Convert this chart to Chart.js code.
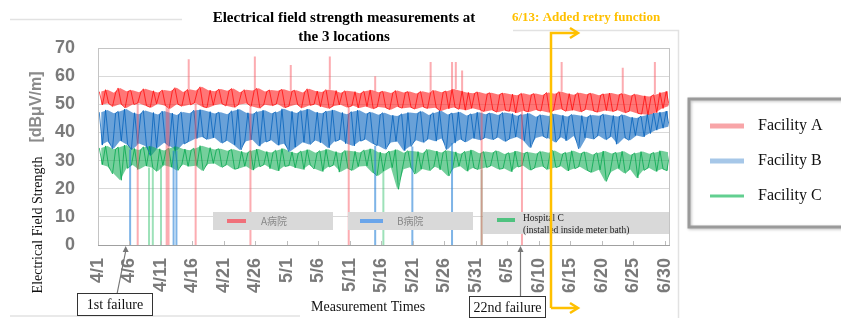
<!DOCTYPE html>
<html>
<head>
<meta charset="utf-8">
<script src="https://cdn.jsdelivr.net/npm/chart.js@4.4.0/dist/chart.umd.min.js"></script>
<style>
  body { margin: 0; background: #fff; }
  #wrap { position: relative; width: 841px; height: 318px; }
</style>
</head>
<body>
<div id="wrap"><canvas id="feldstaerke"></canvas></div>
<script>
// x axis: days since 4/1, one tick label every 5 days
const tickLabels = ['4/1', '4/6', '4/11', '4/16', '4/21', '4/26', '5/1', '5/6', '5/11', '5/16',
    '5/21', '5/26', '5/31', '6/5', '6/10', '6/15', '6/20', '6/25', '6/30'];

// daily upper / lower edge of each noisy band [dBuV/m]
const redHi = [
    54.5, 55.2, 54.1, 55.8, 54.6, 55.0, 54.3, 55.5, 54.8, 54.2,
    55.1, 54.7, 55.9, 54.4, 55.3, 54.9, 56.2, 55.0, 54.6, 55.4,
    54.8, 55.6, 54.3, 55.2, 54.9, 55.7, 54.5, 55.1, 54.8, 55.3,
    54.6, 55.0, 54.2, 55.5, 54.7, 54.4, 55.2, 54.9, 54.1, 54.8,
    54.5, 53.9, 54.7, 55.1, 54.3, 54.6, 54.0, 54.9, 54.2, 54.5,
    53.8, 54.6, 54.1, 55.0, 54.3, 54.7, 55.4, 54.8, 54.2, 53.9,
    54.4, 53.7, 54.1, 53.5, 54.0, 53.6, 53.2, 53.9, 53.4, 53.8,
    53.3, 54.2, 53.7, 54.5, 53.8, 53.4, 54.1, 53.6, 53.9, 53.2,
    53.7, 54.0, 53.5, 53.8, 53.1, 53.6, 53.0, 52.8, 53.4, 54.2, 54.6];
const redLo = [
    49.8, 50.3, 49.2, 50.1, 48.7, 49.9, 50.4, 49.5, 48.9, 50.2,
    49.6, 48.4, 50.0, 49.3, 49.8, 50.5, 49.1, 48.8, 49.7, 50.2,
    49.4, 48.9, 49.9, 50.3, 49.2, 48.6, 49.8, 49.5, 50.1, 48.8,
    49.3, 49.9, 48.7, 49.6, 50.0, 49.1, 48.5, 49.4, 49.8, 48.9,
    49.5, 48.7, 49.2, 48.4, 49.0, 48.8, 48.1, 49.1, 48.6, 48.9,
    48.3, 49.0, 48.5, 48.8, 47.6, 48.4, 48.9, 48.2, 47.9, 48.6,
    48.0, 47.4, 47.9, 47.2, 47.8, 47.5, 46.9, 47.7, 47.3, 48.0,
    47.6, 47.1, 47.8, 48.2, 47.5, 47.9, 47.3, 48.1, 47.6, 47.2,
    47.8, 47.4, 47.9, 47.0, 47.5, 46.8, 46.5, 46.2, 47.0, 48.5, 49.3];
const blueHi = [
    47.2, 48.0, 46.8, 47.5, 48.3, 47.0, 46.5, 47.8, 47.1, 46.4,
    47.6, 46.9, 46.2, 47.3, 46.8, 47.9, 48.1, 47.4, 46.7, 47.2,
    46.5, 47.7, 48.2, 47.0, 46.6, 47.4, 47.9, 46.8, 47.3, 48.4,
    47.5, 46.9, 47.8, 48.3, 47.2, 46.8, 47.6, 48.0, 47.1, 46.5,
    47.4, 47.9, 46.7, 47.2, 46.3, 47.0, 46.1, 45.8, 46.6, 47.1,
    46.8, 47.5, 46.2, 47.0, 47.7, 46.4, 46.9, 47.3, 46.0, 46.6,
    47.2, 46.5, 46.9, 46.2, 47.1, 46.7, 45.9, 46.4, 46.8, 45.6,
    46.3, 45.8, 46.6, 46.1, 45.7, 46.4, 46.0, 45.5, 46.2, 45.9,
    46.5, 46.0, 45.7, 46.3, 45.4, 45.1, 45.8, 46.4, 46.9, 47.2, 47.6];
const blueLo = [
    35.5, 36.8, 34.2, 37.0, 35.8, 33.9, 36.1, 35.2, 31.8, 34.6,
    36.3, 35.0, 33.5, 35.9, 36.7, 37.8, 38.4, 37.5, 38.1, 36.2,
    37.0, 35.6, 33.8, 36.9, 37.4, 35.1, 36.6, 37.2, 35.4, 36.0,
    33.2, 34.8, 36.5, 35.7, 37.1, 36.3, 34.5, 36.8, 37.4, 36.0,
    35.2, 36.9, 37.5, 36.1, 35.3, 34.0, 36.4, 36.8, 33.5, 35.0,
    37.2, 36.4, 37.6, 36.9, 37.8, 33.9, 36.2, 37.5, 36.6, 37.9,
    37.3, 38.0, 37.4, 38.2, 36.8, 37.7, 38.4, 37.1, 34.6, 38.0,
    38.6, 37.9, 36.5, 38.3, 37.0, 38.7, 34.2, 38.1, 37.6, 38.8,
    37.4, 38.5, 35.8, 38.0, 37.2, 38.9, 38.4, 39.6, 40.8, 41.5, 42.0];
const greenHi = [
    34.5, 35.2, 34.0, 34.8, 35.5, 34.3, 33.8, 34.9, 35.1, 34.2,
    33.6, 34.5, 35.0, 34.1, 33.7, 34.4, 35.3, 34.6, 33.9, 34.2,
    33.5, 34.0, 33.3, 32.8, 33.6, 34.1, 33.2, 32.9, 33.7, 34.3,
    33.1, 32.6, 33.4, 33.9, 32.8, 33.5, 34.0, 33.2, 32.7, 33.6,
    33.3, 32.9, 33.8, 34.2, 33.0, 32.5, 33.4, 33.9, 32.8, 33.5,
    33.2, 32.7, 34.0, 33.4, 32.9, 33.6, 33.1, 32.4, 33.3, 33.8,
    32.6, 33.2, 32.9, 33.5, 32.3, 32.8, 33.4, 32.7, 33.0, 32.5,
    33.3, 32.8, 33.6, 32.4, 32.9, 33.5, 32.6, 33.1, 32.2, 32.8,
    33.4, 32.5, 32.9, 33.3, 32.1, 32.7, 33.2, 32.4, 32.9, 33.5, 33.0];
const greenLo = [
    28.6, 27.9, 25.3, 23.0, 27.2, 28.4, 26.8, 28.1, 27.5, 26.2,
    28.3, 27.7, 26.5, 28.6, 27.9, 28.2, 26.4, 28.8, 29.0, 27.6,
    28.4, 26.9, 27.3, 28.0, 26.6, 27.8, 28.5, 27.1, 26.3, 27.9,
    28.2, 27.4, 26.8, 28.5, 27.0, 26.1, 27.7, 28.3, 25.9, 27.2,
    26.5, 27.9, 28.1, 25.8, 24.6, 26.3, 27.5, 19.8, 26.9, 27.6,
    25.2, 27.0, 26.4, 27.8, 26.7, 24.5, 27.3, 28.0, 26.2, 27.4,
    26.8, 27.5, 28.1, 26.9, 27.2, 26.0, 27.7, 28.2, 26.6, 27.4,
    27.9, 26.8, 27.5, 28.0, 26.3, 27.1, 27.8, 26.5, 25.8, 26.7,
    22.6, 26.0, 27.2, 25.5, 26.8, 23.8, 26.5, 27.4, 26.1, 27.0, 26.4];

// single readings far off the band: [day, value]  (drops to 0 = failures)
const redSpikes = [[6.3, 0], [10.9, 0], [11.2, 0], [14.4, 66], [15.5, 0], [24.2, 0], [24.9, 67],
    [30.6, 64], [36.8, 67], [39.8, 0], [44.0, 60], [52.8, 65], [56.2, 65], [56.8, 65],
    [57.8, 62], [60.9, 0], [67.3, 0], [73.6, 65], [83.3, 63], [88.4, 65]];
const blueSpikes = [[5.1, 0], [12.0, 0], [12.45, 0], [44.0, 0], [49.9, 0], [56.2, 0]];
const greenSpikes = [[8.1, 0], [8.7, 0], [10.0, 0], [45.3, 0], [60.9, 0]];

// annotations (days since 4/1)
const firstFailureDay = 4.4;
const failure22Day = 67.0;
const retryDay = 71.9;

const SERIF = '"Liberation Serif", "DejaVu Serif", serif';
const SANS = '"Liberation Sans", Arial, sans-serif';

// band as jagged line through each day's upper and lower reading;
// which one comes first follows the data (rising top -> top first)
function zigzag(hi, lo) {
    const pts = [];
    hi.forEach((h, d) => {
        const topFirst = d === 0 || h >= hi[d - 1];
        if (topFirst) {
            pts.push({ x: d + 0.2, y: h });
            pts.push({ x: d + 0.7, y: lo[d] });
        } else {
            pts.push({ x: d + 0.3, y: lo[d] });
            pts.push({ x: d + 0.8, y: h });
        }
    });
    return pts;
}
function edge(arr) {
    return arr.map((v, d) => ({ x: d + 0.5, y: v }));
}
// vertical strokes from the band to the outlying value
function spikeLines(spikes, hi, lo) {
    const pts = [];
    spikes.forEach(([t, v]) => {
        const d = Math.floor(t);
        pts.push({ x: t, y: v > 50 ? hi[d] : lo[d] });
        pts.push({ x: t, y: v });
        pts.push({ x: t, y: null });
    });
    return pts;
}

function band(data, color, order) {
    return { data: data, borderWidth: 0, pointRadius: 0, fill: false, order: order, backgroundColor: color };
}
function jagged(data, color, order) {
    return { data: data, borderColor: color, borderWidth: 1, pointRadius: 0, fill: false, order: order, tension: 0 };
}
function spikes(data, color) {
    return { data: data, borderColor: color, borderWidth: 2, pointRadius: 0, fill: false, order: 0, spanGaps: false };
}

function arrowUp(ctx, x, y) {
    ctx.beginPath();
    ctx.moveTo(x, y);
    ctx.lineTo(x - 3, y + 6);
    ctx.lineTo(x + 3, y + 6);
    ctx.closePath();
    ctx.fill();
}
function chevronRight(ctx, x, y) {
    ctx.beginPath();
    ctx.moveTo(x - 8, y - 5);
    ctx.lineTo(x, y);
    ctx.lineTo(x - 8, y + 5);
    ctx.stroke();
}
function labelBox(ctx, text, x, y, w, h) {
    ctx.fillStyle = '#fff';
    ctx.fillRect(x, y, w, h);
    ctx.strokeStyle = '#333';
    ctx.lineWidth = 1;
    ctx.strokeRect(x, y, w, h);
    ctx.fillStyle = '#111';
    ctx.font = '14px ' + SERIF;
    ctx.textAlign = 'center';
    ctx.textBaseline = 'middle';
    ctx.fillText(text, x + w / 2, y + h / 2 + 1);
}

const extras = {
    id: 'extras',
    beforeDraw(chart) {
        const ctx = chart.ctx;
        ctx.save();
        ctx.fillStyle = '#fff';
        ctx.fillRect(0, 0, chart.width, chart.height);
        // leftovers of the original chart frame
        ctx.strokeStyle = '#e2e2e2';
        ctx.lineWidth = 1.5;
        ctx.beginPath();
        ctx.moveTo(10, 19.5); ctx.lineTo(182, 19.5);
        ctx.moveTo(513, 30.5); ctx.lineTo(678.5, 30.5); ctx.lineTo(678.5, 318);
        ctx.moveTo(10, 316); ctx.lineTo(300, 316);
        ctx.stroke();
        ctx.restore();
    },
    afterDatasetsDraw(chart) {
        const ctx = chart.ctx;
        const a = chart.chartArea;
        const xs = chart.scales.x;
        ctx.save();
        // plot frame
        ctx.strokeStyle = '#c4c4c4';
        ctx.lineWidth = 1;
        ctx.strokeRect(a.left + 0.5, a.top + 0.5, a.right - a.left - 1, a.bottom - a.top);
        ctx.strokeStyle = '#a0a0a0';
        ctx.beginPath();
        ctx.moveTo(a.left, a.bottom + 0.5); ctx.lineTo(a.right, a.bottom + 0.5);
        ctx.stroke();
        // small inward ticks
        ctx.strokeStyle = '#bdbdbd';
        ctx.beginPath();
        tickLabels.forEach((_, i) => {
            const px = Math.round(xs.getPixelForValue(i * 5)) + 0.5;
            ctx.moveTo(px, a.bottom); ctx.lineTo(px, a.bottom - 4);
        });
        ctx.stroke();

        // inner legend of the original chart
        ctx.fillStyle = '#d9d9d9';
        ctx.fillRect(213, 212, 120, 18);
        ctx.fillRect(348, 212, 125, 18);
        ctx.fillRect(483, 212, a.right - 484, 22);
        ctx.lineWidth = 4;
        ctx.strokeStyle = '#f0707a';
        ctx.beginPath(); ctx.moveTo(227, 221); ctx.lineTo(246, 221); ctx.stroke();
        ctx.strokeStyle = '#6aa5ea';
        ctx.beginPath(); ctx.moveTo(360, 221); ctx.lineTo(383, 221); ctx.stroke();
        ctx.strokeStyle = '#4fc27f';
        ctx.beginPath(); ctx.moveTo(497, 220); ctx.lineTo(515, 220); ctx.stroke();
        ctx.fillStyle = '#888';
        ctx.font = '10px "Noto Sans CJK JP", ' + SANS;
        ctx.textAlign = 'left';
        ctx.textBaseline = 'middle';
        ctx.fillText('A病院', 261, 221);
        ctx.fillText('B病院', 397, 221);
        ctx.fillStyle = '#222';
        ctx.font = '9.5px ' + SERIF;
        ctx.fillText('Hospital C', 523, 218);
        ctx.fillText('(installed inside meter bath)', 523, 230);
        ctx.restore();
    },
    afterDraw(chart) {
        const ctx = chart.ctx;
        const xs = chart.scales.x;
        ctx.save();
        ctx.textBaseline = 'middle';

        // title
        ctx.fillStyle = '#000';
        ctx.font = 'bold 15px ' + SERIF;
        ctx.textAlign = 'center';
        ctx.fillText('Electrical field strength measurements at', 344, 18);
        ctx.fillText('the 3 locations', 344, 37);

        // retry annotation
        const rx = Math.round(xs.getPixelForValue(retryDay));
        ctx.fillStyle = '#FFC000';
        ctx.font = 'bold 13px ' + SERIF;
        ctx.textAlign = 'left';
        ctx.fillText('6/13: Added retry function', 512, 18);
        ctx.strokeStyle = '#FFC000';
        ctx.lineWidth = 2.5;
        ctx.beginPath();
        ctx.moveTo(rx, 308); ctx.lineTo(rx, 33); ctx.lineTo(577, 33);
        ctx.moveTo(rx, 308); ctx.lineTo(577, 308);
        ctx.stroke();
        chevronRight(ctx, 578, 33);
        chevronRight(ctx, 578, 308);

        // y axis title
        ctx.fillStyle = '#111';
        ctx.font = '14px ' + SERIF;
        ctx.textAlign = 'center';
        ctx.save();
        ctx.translate(38, 225);
        ctx.rotate(-Math.PI / 2);
        ctx.fillText('Electrical Field Strength', 0, 0);
        ctx.restore();
        ctx.fillStyle = '#8a8a8a';
        ctx.font = 'bold 16px ' + SANS;
        ctx.save();
        ctx.translate(37, 107);
        ctx.rotate(-Math.PI / 2);
        ctx.fillText('[dB\u03bcV/m]', 0, 0);
        ctx.restore();

        // x axis title
        ctx.fillStyle = '#111';
        ctx.font = '14px ' + SERIF;
        ctx.textAlign = 'left';
        ctx.fillText('Measurement Times', 311, 307);

        // failure markers
        const f1 = xs.getPixelForValue(firstFailureDay);
        const f22 = Math.round(xs.getPixelForValue(failure22Day)) + 0.5;
        ctx.strokeStyle = '#777';
        ctx.fillStyle = '#777';
        ctx.lineWidth = 1.2;
        ctx.beginPath();
        ctx.moveTo(117, 294); ctx.lineTo(f1, 251);
        ctx.moveTo(f22, 297); ctx.lineTo(f22, 251);
        ctx.stroke();
        arrowUp(ctx, f1, 246);
        arrowUp(ctx, f22, 246);
        labelBox(ctx, '1st failure', 77.5, 293.5, 75, 22);
        labelBox(ctx, '22nd failure', 469.5, 296.5, 76, 21);

        // legend on the right
        ctx.shadowColor = 'rgba(0,0,0,0.25)';
        ctx.shadowBlur = 3;
        ctx.shadowOffsetX = 1;
        ctx.shadowOffsetY = 1;
        ctx.strokeStyle = '#9a9a9a';
        ctx.lineWidth = 3;
        ctx.strokeRect(689, 99, 170, 128);
        ctx.shadowColor = 'transparent';
        const items = [['Facility A', '#f8a5a8', 5, 126], ['Facility B', '#a6c7e8', 5, 161], ['Facility C', '#62cf90', 3, 196]];
        ctx.font = '16px ' + SERIF;
        ctx.textAlign = 'left';
        items.forEach(([name, col, w, y]) => {
            ctx.strokeStyle = col;
            ctx.lineWidth = w;
            ctx.beginPath(); ctx.moveTo(710, y); ctx.lineTo(744, y); ctx.stroke();
            ctx.fillStyle = '#111';
            ctx.fillText(name, 758, y);
        });
        ctx.restore();
    }
};

const canvas = document.getElementById('feldstaerke');
new Chart(canvas, {
    type: 'line',
    data: {
        datasets: [
            band(edge(redHi), 'rgba(255,45,45,0.65)', 6),
            Object.assign(band(edge(redLo), 'rgba(255,45,45,0.65)', 6), { fill: '-1' }),
            band(edge(blueHi), 'rgba(25,110,195,0.65)', 5),
            Object.assign(band(edge(blueLo), 'rgba(25,110,195,0.65)', 5), { fill: '-1' }),
            band(edge(greenHi), 'rgba(25,175,90,0.6)', 4),
            Object.assign(band(edge(greenLo), 'rgba(25,175,90,0.6)', 4), { fill: '-1' }),
            jagged(zigzag(redHi, redLo), 'rgba(255,0,0,0.7)', 3),
            jagged(zigzag(blueHi, blueLo), 'rgba(0,95,185,0.75)', 2),
            jagged(zigzag(greenHi, greenLo), 'rgba(0,165,75,0.75)', 1),
            spikes(spikeLines(redSpikes, redHi, redLo), 'rgba(250,90,100,0.5)'),
            spikes(spikeLines(blueSpikes, blueHi, blueLo), 'rgba(40,130,215,0.6)'),
            spikes(spikeLines(greenSpikes, greenHi, greenLo), 'rgba(60,195,115,0.5)')
        ]
    },
    options: {
        responsive: true,
        maintainAspectRatio: false,
        animation: false,
        layout: { padding: { left: 0, top: 48, right: 171, bottom: 0 } },
        plugins: {
            legend: { display: false },
            tooltip: { enabled: false }
        },
        scales: {
            x: {
                type: 'linear',
                min: 0,
                max: 90.8,
                afterFit: function (scale) { scale.height = 73; },
                afterBuildTicks: function (scale) {
                    scale.ticks = tickLabels.map((_, i) => ({ value: i * 5 }));
                },
                grid: { display: false },
                border: { display: false },
                ticks: {
                    autoSkip: false,
                    minRotation: 90,
                    maxRotation: 90,
                    padding: 5,
                    color: '#7a7a7a',
                    font: { family: SANS, size: 18, weight: 'bold' },
                    callback: function (value, index) { return tickLabels[index]; }
                }
            },
            y: {
                min: 0,
                max: 70,
                afterFit: function (scale) { scale.width = 98; },
                grid: { color: '#d9d9d9', drawTicks: false },
                border: { display: false },
                ticks: {
                    stepSize: 10,
                    padding: 23,
                    color: '#7a7a7a',
                    font: { family: SANS, size: 18, weight: 'bold' }
                }
            }
        }
    },
    plugins: [extras]
});
</script>
</body>
</html>
